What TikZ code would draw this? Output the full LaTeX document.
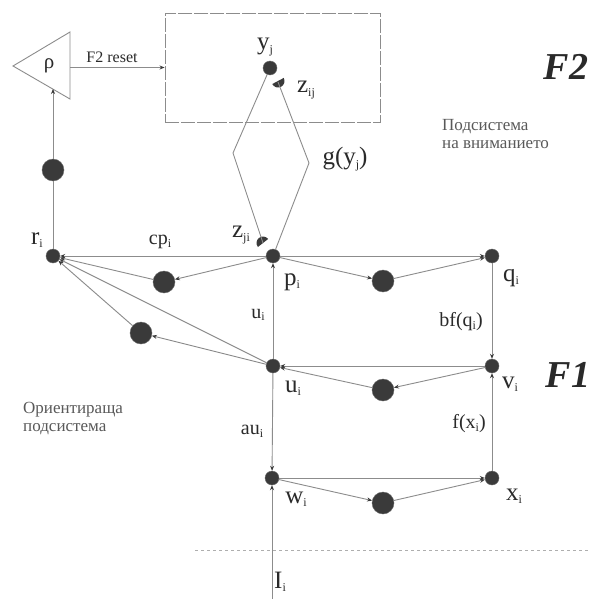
\documentclass[tikz,border=0pt]{standalone}
\usepackage{fontspec}
\setmainfont{Liberation Serif}
\usetikzlibrary{arrows.meta}
\definecolor{ln}{HTML}{8C8C8C}
\definecolor{dk}{HTML}{3A3A3A}
\definecolor{tx}{HTML}{2A2A2A}
\newcommand{\lsub}[1]{\raisebox{-0.3ex}{\fontsize{12}{12}\selectfont #1}}
\begin{document}
\begin{tikzpicture}[x=1pt,y=-1pt,
  sn/.style={circle,fill=dk,draw=dk!75!white,inner sep=0pt,minimum size=14pt},
  bn/.style={circle,fill=dk,draw=dk!75!white,inner sep=0pt,minimum size=22pt},
  conn/.style={draw=ln,line width=0.9pt},
  arr/.style={conn,-{Stealth[length=5pt,width=4pt,color=dk,fill=dk]}},
  lab/.style={font=\fontsize{25}{27}\selectfont,text=tx,inner sep=0pt},
  elab/.style={font=\fontsize{20}{22}\selectfont,text=tx,inner sep=0pt},
  ru/.style={font=\fontsize{17}{18}\selectfont,text=black!65,align=left,anchor=west,inner sep=0pt},
  big/.style={font=\bfseries\itshape\fontsize{38}{40}\selectfont,text=tx,inner sep=0pt},
]
\useasboundingbox[fill=white] (0,0) rectangle (590,599);

% F2 box
\node[draw=ln,line width=0.9pt,dash pattern=on 14pt off 2pt,minimum width=215pt,minimum height=109pt,inner sep=0pt] (box) at (272.5,67.5) {};

% nodes
\node[sn] (y) at (270,68) {};
\node[sn] (p) at (273,256) {};
\node[sn] (q) at (492,256) {};
\node[sn] (u) at (273,366) {};
\node[sn] (v) at (492,366) {};
\node[sn] (w) at (272,478) {};
\node[sn] (x) at (492,478) {};
\node[sn] (r) at (53,256) {};
\node[bn] (c1) at (53,170) {};
\node[bn] (c2) at (164,282) {};
\node[bn] (c3) at (141,333) {};
\node[bn] (c4) at (383,281) {};
\node[bn] (c5) at (383,390) {};
\node[bn] (c6) at (383,503) {};

% triangle rho
\coordinate (ta) at (13,66);
\coordinate (tb) at (70,32);
\coordinate (tc) at (70,99);
\draw[conn] (ta) -- (tb) -- (tc) -- cycle;
\node[font=\fontsize{21}{23}\selectfont,text=tx] (rho) at (49,66) {ρ};
\coordinate (tr) at (70,67.5);
\coordinate (tbot) at (53,89);
\draw[arr] (tr) -- (box.west);
\node[font=\fontsize{16}{18}\selectfont,text=tx,inner sep=0pt] (reset) at (112,57) {F2 reset};
\draw[conn] (r) -- (c1);
\draw[arr] (c1) -- (tbot);

% crescents (half moons)
\coordinate (zij) at (278,82);
\coordinate (zji) at (263,243);
\fill[dk] (278,81) ++(-28:6.5) arc[start angle=-28,end angle=152,radius=6.5] -- cycle;
\fill[dk] (263,243) ++(142:6.5) arc[start angle=142,end angle=322,radius=6.5] -- cycle;

% g(y_j) diamond
\coordinate (dl) at (233,153);
\coordinate (dr) at (309,163);
\draw[conn] (y) -- (dl) -- (zji);
\draw[conn] (zij) -- (dr) -- (p);

% orienting subsystem
\draw[arr] (p) -- (r);
\draw[arr] (p) -- (c2);
\draw[arr] (c2) -- (r);
\draw[arr] (u) -- (c3);
\draw[arr] (c3) -- (r);
\draw[arr] (u) -- (r);

% F1
\draw[arr] (u) -- (p);
\draw[arr] (p) -- (q);
\draw[arr] (p) -- (c4);
\draw[arr] (c4) -- (q);
\draw[arr] (q) -- (v);
\draw[arr] (v) -- (u);
\draw[arr] (v) -- (c5);
\draw[arr] (c5) -- (u);
\draw[arr] (x) -- (v);
\draw[arr] (u) -- (w);
\draw[arr] (w) -- (x);
\draw[arr] (w) -- (c6);
\draw[arr] (c6) -- (x);
\coordinate (Iin) at (272,599);
\draw[arr] (Iin) -- (w);

% dashed separator
\draw[ln!70,line width=0.8pt,dashed] (195,550) -- (590,550);

% labels
\node[lab] (lr) at (37,240) {r\lsub{i}};
\node[lab] (lp) at (292,282) {p\lsub{i}};
\node[lab] (lq) at (511,278) {q\lsub{i}};
\node[lab] (lv) at (510,384) {v\lsub{i}};
\node[lab] (lu) at (293,388) {u\lsub{i}};
\node[lab] (lw) at (296,499) {w\lsub{i}};
\node[lab] (lx) at (514,496) {x\lsub{i}};
\node[lab] (ly) at (265,47) {y\lsub{j}};
\node[lab] (lzij) at (306,90) {z\lsub{ij}};
\node[lab] (lzji) at (241,235) {z\lsub{ji}};
\node[lab] (lg) at (345,159) {g(y\lsub{j})};
\node[lab] (lI) at (280,582) {I\lsub{i}};
\node[elab] (lcp) at (160,242) {cp\lsub{i}};
\node[elab] (lui) at (258,315) {u\lsub{i}};
\node[elab] (lau) at (252,431) {au\lsub{i}};
\node[elab] (lbf) at (461,322) {bf(q\lsub{i})};
\node[elab] (lf) at (469,424) {f(x\lsub{i})};

\node[big] (F2) at (566,67) {F2};
\node[big] (F1) at (568,375) {F1};
\node[ru] (att) at (442,134) {Подсистема\\на вниманието};
\node[ru] (ori) at (23,419) {Ориентираща\\подсистема};
\end{tikzpicture}
\end{document}
